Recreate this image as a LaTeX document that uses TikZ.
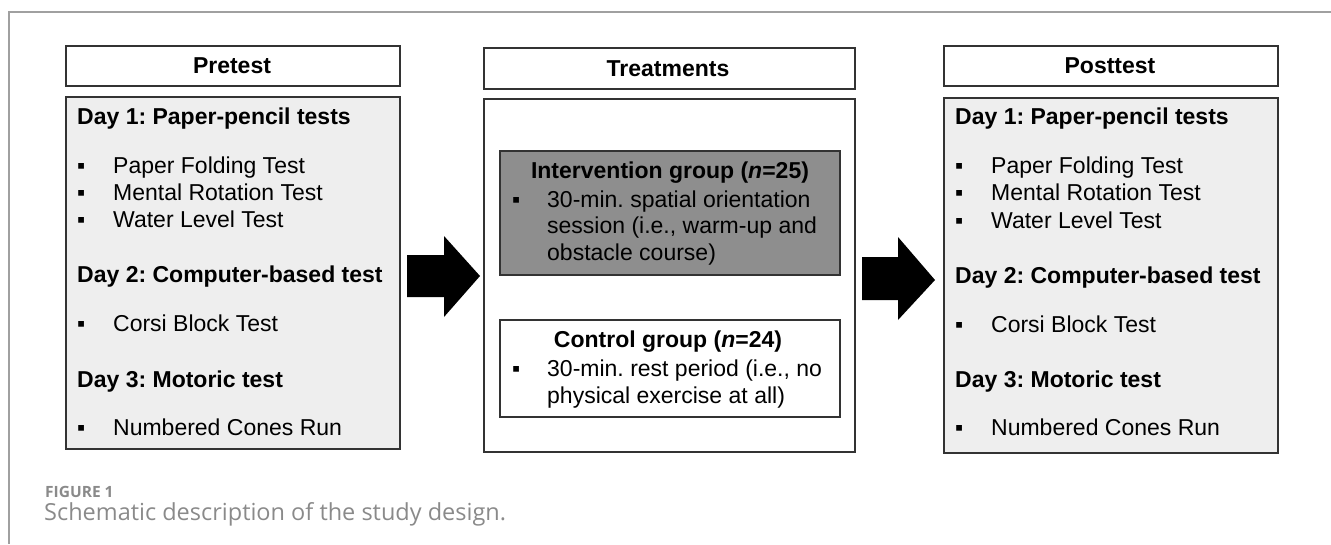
\documentclass[tikz,border=0pt]{standalone}
\usepackage{fontspec}
\setmainfont{Liberation Sans}
\newfontfamily\capfont{Open Sans}
\definecolor{boxline}{HTML}{333333}
\definecolor{lightfill}{HTML}{EEEEEE}
\definecolor{darkfill}{HTML}{8E8E8E}
\definecolor{framec}{HTML}{A0A0A0}
\definecolor{capc}{HTML}{8A8A8A}
\newcommand{\bl}{\makebox[36pt][l]{▪}}
\newcommand{\blb}{\makebox[35pt][l]{▪}}
\frenchspacing
\begin{document}
\begin{tikzpicture}[x=1pt,y=-1pt,
  box/.style={draw=boxline, line width=1.6pt, inner sep=0pt, anchor=north west},
  ttl/.style={font=\fontsize{23}{27}\selectfont\bfseries, anchor=base, inner sep=0pt},
  day/.style={font=\fontsize{23}{27}\selectfont\bfseries, anchor=base west, inner sep=0pt},
  itm/.style={font=\fontsize{23}{27}\selectfont, anchor=base west, inner sep=0pt},
  blockarrow/.style={fill=black}
]
\useasboundingbox (0,0) rectangle (1331,544);
\draw[framec, line width=1.5pt] (1331,12) -- (9,12) -- (9,544);

% Pretest
\node[box, fill=white, minimum width=334pt, minimum height=40pt] (prehdr) at (65,45) {};
\node[ttl] (pretitle) at (232,73) {Pretest};
\node[box, fill=lightfill, minimum width=334pt, minimum height=352pt] (prebody) at (65,96) {};
\node[day] (pd1) at (77,124) {Day 1: Paper-pencil tests};
\node[itm] (pi1) at (77,173) {\bl Paper Folding Test};
\node[itm] (pi2) at (77,200) {\bl Mental Rotation Test};
\node[itm] (pi3) at (77,227) {\bl Water Level Test};
\node[day] (pd2) at (77,282) {Day 2: Computer-based test};
\node[itm] (pi4) at (77,331) {\bl Corsi Block Test};
\node[day] (pd3) at (77,387) {Day 3: Motoric test};
\node[itm] (pi5) at (77,435) {\bl Numbered Cones Run};

% Treatments
\node[box, fill=white, minimum width=371pt, minimum height=41pt] (trhdr) at (483,47) {};
\node[ttl] (trtitle) at (668,76) {Treatments};
\node[box, fill=white, minimum width=371pt, minimum height=353pt] (trbody) at (483,98) {};
\node[box, fill=darkfill, minimum width=340pt, minimum height=124pt] (intbox) at (499,150) {};
\node[ttl] (inttitle) at (670,178) {Intervention group (\textit{n}=25)};
\node[itm] (ii1) at (512,207) {\blb 30-min. spatial orientation};
\node[itm] (ii2) at (547,233) {session (i.e., warm-up and};
\node[itm] (ii3) at (547,260) {obstacle course)};
\node[box, fill=white, minimum width=340pt, minimum height=97pt] (ctlbox) at (499,319) {};
\node[ttl] (ctltitle) at (668,347) {Control group (\textit{n}=24)};
\node[itm] (ci1) at (512,376) {\blb 30-min. rest period (i.e., no};
\node[itm] (ci2) at (547,403) {physical exercise at all)};

% Posttest
\node[box, fill=white, minimum width=334pt, minimum height=40pt] (posthdr) at (943,45) {};
\node[ttl] (posttitle) at (1110,73) {Posttest};
\node[box, fill=lightfill, minimum width=334pt, minimum height=355pt] (postbody) at (943,97) {};
\node[day] (qd1) at (955,124) {Day 1: Paper-pencil tests};
\node[itm] (qi1) at (955,173) {\bl Paper Folding Test};
\node[itm] (qi2) at (955,200) {\bl Mental Rotation Test};
\node[itm] (qi3) at (955,228) {\bl Water Level Test};
\node[day] (qd2) at (955,283) {Day 2: Computer-based test};
\node[itm] (qi4) at (955,332) {\bl Corsi Block Test};
\node[day] (qd3) at (955,387) {Day 3: Motoric test};
\node[itm] (qi5) at (955,435) {\bl Numbered Cones Run};

% Block arrows
\coordinate (a1) at (407,276);
\coordinate (a2) at (862,278.5);
\fill[blockarrow] (a1) ++(0,-21) -- ++(37,0) -- ++(0,-19) -- ++(36,40) -- ++(-36,41) -- ++(0,-20) -- ++(-37,0) -- cycle;
\fill[blockarrow] (a2) ++(0,-21.5) -- ++(36,0) -- ++(0,-20) -- ++(37,43) -- ++(-37,40) -- ++(0,-20) -- ++(-36,0) -- cycle;

% Caption
\node[anchor=base west, inner sep=0pt, text=capc, font=\capfont\bfseries\fontsize{15.5}{18}\selectfont] (figlab) at (45,497) {FIGURE 1};
\node[anchor=base west, inner sep=0pt, text=capc, font=\capfont\fontsize{23.5}{27}\selectfont] (caption) at (44,520) {Schematic description of the study design.};
\end{tikzpicture}
\end{document}
